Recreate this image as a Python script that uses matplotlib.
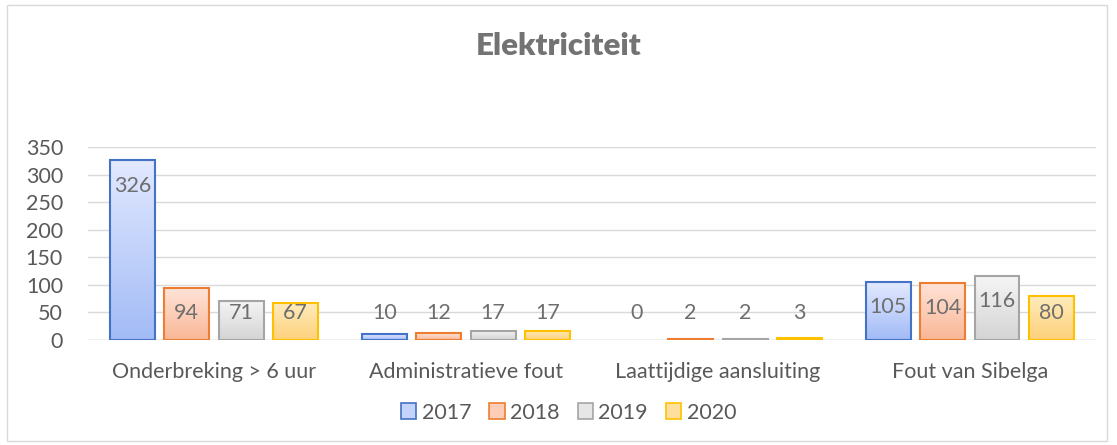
import matplotlib
matplotlib.use("Agg")
import matplotlib.pyplot as plt
import numpy as np
from matplotlib.colors import LinearSegmentedColormap
from matplotlib.patches import Patch, Rectangle

categories = ["Onderbreking > 6 uur", "Administratieve fout", "Laattijdige aansluiting", "Fout van Sibelga"]
years = ["2017", "2018", "2019", "2020"]
values = {
    "2017": [326, 10, 0, 105],
    "2018": [94, 12, 2, 104],
    "2019": [71, 17, 2, 116],
    "2020": [67, 17, 3, 80],
}

# (top colour, bottom colour, edge colour)
styles = {
    "2017": ("#e2e9ff", "#a2bbf6", "#4472c4"),
    "2018": ("#ffe3d8", "#f9b796", "#ed7d31"),
    "2019": ("#f5f5f5", "#d4d4d4", "#a5a5a5"),
    "2020": ("#ffebbd", "#fdd17a", "#ffc000"),
}
legend_fill = ["#c4d3fb", "#fdcdb8", "#e6e6e6", "#fedf9e"]

plt.rcParams['font.family'] = ['Lato', 'DejaVu Sans']
TXT = "#595959"
FS = 15.5

fig = plt.figure(figsize=(11.17, 4.45), dpi=100)
fig.patches.append(Rectangle((0.006, 0.01), 0.985, 0.978, transform=fig.transFigure,
                             fill=False, edgecolor="#d9d9d9", lw=1))
ax = fig.add_axes([0.0788, 0.236, 0.9022, 0.4337])

x = np.arange(len(categories))
pitch = 0.216
width = 0.178
for i, yr in enumerate(years):
    top, bot, edge = styles[yr]
    cmap = LinearSegmentedColormap.from_list(yr, [bot, top])
    offs = (i - 1.5) * pitch
    edges = [edge if v > 0 else "none" for v in values[yr]]
    bars = ax.bar(x + offs, values[yr], width, color="none", edgecolor=edges, lw=1.5, zorder=3)
    for b, v in zip(bars, values[yr]):
        if v > 0:
            grad = np.linspace(0, 1, 256).reshape(-1, 1)
            im = ax.imshow(grad, cmap=cmap, origin="lower", aspect="auto",
                           extent=[b.get_x(), b.get_x() + b.get_width(), 0, v], zorder=2)
            im.set_clip_path(b)
        ax.text(b.get_x() + b.get_width() / 2, max(v - 46, 49), str(v),
                ha="center", va="center", fontsize=FS, color="#6e6e6e", zorder=4)

ax.set_xlim(-0.5, 3.5)
ax.set_ylim(0, 350)
ax.set_yticks(range(0, 351, 50))
ax.yaxis.grid(True, color="#d9d9d9", lw=1, zorder=0)
ax.set_axisbelow(True)
ax.set_xticks(x)
ax.set_xticklabels(categories)
ax.tick_params(axis="both", length=0, labelsize=FS, colors=TXT)
ax.tick_params(axis="x", pad=16)
ax.tick_params(axis="y", pad=18)
for s in ax.spines.values():
    s.set_visible(False)
ax.axhline(0, color="#d9d9d9", lw=1, zorder=1)

fig.text(0.5, 0.897, "Elektriciteit", ha="center", va="center", fontsize=22.5,
         fontweight="heavy", color="#737373")

handles = [Patch(facecolor=legend_fill[i], edgecolor=styles[yr][2], lw=1.2) for i, yr in enumerate(years)]
fig.legend(handles, years, loc="center", bbox_to_anchor=(0.509, 0.073), ncol=4, frameon=False,
           fontsize=FS, labelcolor=TXT, handlelength=0.7, handleheight=0.7,
           handletextpad=0.25, columnspacing=0.85)

fig.savefig("out.png", dpi=100)
